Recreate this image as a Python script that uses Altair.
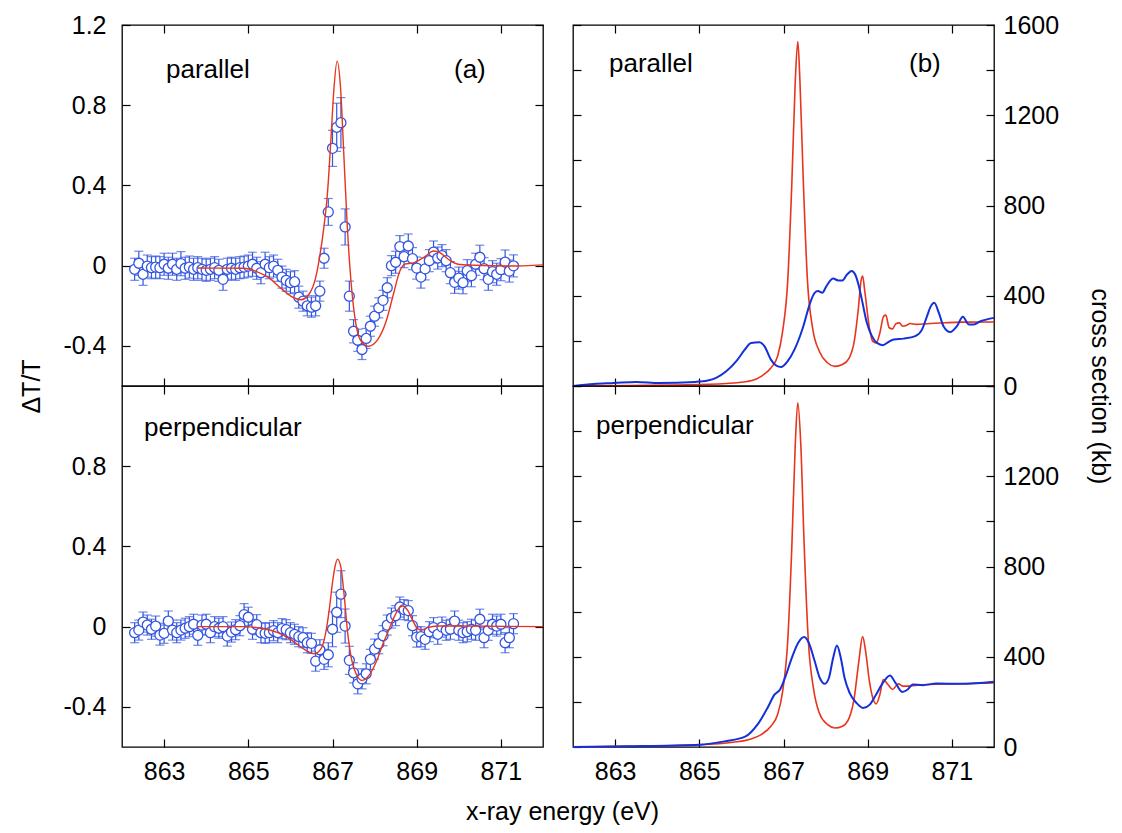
import altair as alt
import pandas as pd

FONT = "Liberation Sans"
W, H = 421, 361
RED = "#e8341c"
BLUE_LINE = "#1431d8"
BLUE_PT = "#3355e0"

# ---------------- (a) measured data ----------------
E_DATA = [862.3, 862.4, 862.5, 862.6, 862.7, 862.8, 862.9, 863.0, 863.1, 863.2,
          863.3, 863.4, 863.5, 863.6, 863.7, 863.8, 863.9, 864.0, 864.1, 864.2,
          864.3, 864.4, 864.5, 864.6, 864.7, 864.8, 864.9, 865.0, 865.1, 865.2,
          865.3, 865.4, 865.5, 865.6, 865.7, 865.8, 865.9, 866.0, 866.1, 866.2,
          866.3, 866.4, 866.5, 866.6, 866.7, 866.8, 866.9, 867.0, 867.1, 867.2,
          867.3, 867.4, 867.5, 867.6, 867.7, 867.8, 867.9, 868.0, 868.1, 868.2,
          868.3, 868.4, 868.5, 868.6, 868.7, 868.8, 868.9, 869.0, 869.1, 869.2,
          869.3, 869.4, 869.5, 869.6, 869.7, 869.8, 869.9, 870.0, 870.1, 870.2,
          870.3, 870.4, 870.5, 870.6, 870.7, 870.8, 870.9, 871.0, 871.1, 871.2, 871.3]

PAR_DT = [-0.018, 0.012, -0.043, -0.002, -0.01, -0.007, -0.01, 0.007, -0.013, 0.007,
          -0.018, 0.01, -0.013, -0.007, -0.018, -0.01, -0.018, -0.023, -0.018, -0.01,
          -0.023, -0.068, -0.018, -0.013, -0.018, -0.01, -0.007, -0.002, 0.007, -0.013,
          -0.035, 0.007, -0.01, -0.002, -0.023, -0.057, -0.073, -0.085, -0.08, -0.157,
          -0.177, -0.2, -0.207, -0.2, -0.127, 0.037, 0.268, 0.585, 0.69, 0.713,
          0.193, -0.152, -0.327, -0.372, -0.418, -0.363, -0.302, -0.252, -0.21, -0.173,
          -0.11, 0.0, 0.017, 0.095, 0.045, 0.098, 0.035, -0.012, -0.057, -0.016,
          0.025, 0.068, 0.038, 0.05, 0.025, -0.035, -0.083, -0.062, -0.085, -0.025,
          -0.05, 0.007, 0.042, -0.015, -0.068, -0.03, -0.043, -0.02, 0.018, -0.027, -0.001]

PAR_ERR = [0.055, 0.06, 0.055, 0.055, 0.055, 0.055, 0.055, 0.055, 0.055, 0.055,
           0.055, 0.06, 0.055, 0.055, 0.055, 0.055, 0.055, 0.055, 0.055, 0.055,
           0.055, 0.055, 0.055, 0.055, 0.055, 0.055, 0.055, 0.055, 0.06, 0.055,
           0.055, 0.06, 0.055, 0.055, 0.055, 0.055, 0.055, 0.055, 0.055, 0.055,
           0.05, 0.05, 0.05, 0.05, 0.05, 0.05, 0.067, 0.09, 0.12, 0.125,
           0.09, 0.075, 0.058, 0.055, 0.05, 0.05, 0.05, 0.05, 0.05, 0.05,
           0.05, 0.05, 0.055, 0.055, 0.055, 0.06, 0.055, 0.055, 0.055, 0.055,
           0.055, 0.055, 0.055, 0.055, 0.055, 0.055, 0.055, 0.055, 0.055, 0.055,
           0.055, 0.055, 0.06, 0.055, 0.055, 0.055, 0.055, 0.055, 0.06, 0.055, 0.055]

PERP_DT = [-0.03, -0.017, 0.023, 0.008, -0.013, 0.003, -0.042, -0.033, 0.028, -0.017,
           -0.03, -0.017, -0.008, 0.0, 0.012, -0.043, 0.008, 0.012, -0.03, 0.0,
           -0.008, 0.0, -0.047, -0.027, -0.015, 0.005, 0.06, 0.047, -0.013, 0.01,
           -0.03, -0.033, -0.03, -0.02, -0.03, -0.01, -0.015, -0.03, -0.038, -0.05,
           -0.055, -0.08, -0.083, -0.172, -0.115, -0.163, -0.14, -0.013, 0.072, 0.162,
           0.003, -0.168, -0.23, -0.285, -0.26, -0.235, -0.163, -0.112, -0.085, -0.045,
           0.008, 0.043, 0.055, 0.098, 0.085, 0.08, 0.005, -0.052, -0.05, -0.063,
           -0.025, -0.005, -0.038, -0.002, -0.018, -0.013, 0.028, -0.018, -0.03, -0.025,
           -0.013, -0.018, 0.037, -0.055, -0.018, 0.012, 0.003, 0.012, -0.08, -0.055, 0.015]

PERP_ERR = [0.05, 0.05, 0.05, 0.05, 0.05, 0.05, 0.05, 0.05, 0.05, 0.05,
            0.05, 0.05, 0.05, 0.05, 0.05, 0.05, 0.05, 0.05, 0.05, 0.05,
            0.05, 0.05, 0.05, 0.05, 0.05, 0.05, 0.055, 0.05, 0.05, 0.05,
            0.05, 0.05, 0.05, 0.05, 0.05, 0.05, 0.05, 0.05, 0.05, 0.05,
            0.05, 0.05, 0.05, 0.05, 0.05, 0.05, 0.06, 0.087, 0.1, 0.117,
            0.085, 0.07, 0.05, 0.05, 0.05, 0.05, 0.05, 0.05, 0.05, 0.05,
            0.05, 0.05, 0.05, 0.05, 0.05, 0.05, 0.05, 0.05, 0.05, 0.05,
            0.05, 0.05, 0.05, 0.05, 0.05, 0.05, 0.05, 0.05, 0.05, 0.05,
            0.05, 0.05, 0.05, 0.05, 0.05, 0.05, 0.05, 0.05, 0.05, 0.05, 0.05]

# ---------------- (a) fit curves ----------------
PAR_FIT_E = [863.8, 864.9, 865.17, 865.48, 865.8, 866.04, 866.25, 866.45, 866.6, 866.7,
             866.8, 866.88, 866.96, 867.03, 867.11, 867.19, 867.27, 867.35, 867.44, 867.54,
             867.66, 867.85, 868.07, 868.27, 868.45, 868.6, 868.72, 868.92, 869.18, 869.4,
             869.55, 869.75, 869.98, 870.37, 871.2, 872.0]
PAR_FIT = [-0.012, -0.013, -0.027, -0.06, -0.117, -0.156, -0.17, -0.14, -0.06, 0.05,
           0.2, 0.36, 0.62, 0.87, 1.02, 0.89, 0.55, 0.2, -0.08, -0.27,
           -0.37, -0.402, -0.37, -0.28, -0.14, -0.027, 0.008, 0.014, 0.043, 0.073,
           0.065, 0.032, 0.007, 0.002, -0.002, 0.004]

PERP_FIT_E = [863.8, 864.9, 865.3, 865.7, 866.0, 866.33, 866.57, 866.73, 866.83, 866.92,
              867.0, 867.06, 867.12, 867.2, 867.28, 867.36, 867.45, 867.57, 867.7, 867.84,
              868.05, 868.2, 868.31, 868.47, 868.6, 868.67, 868.79, 868.92, 869.02, 869.12,
              869.26, 869.5, 870.05, 872.0]
PERP_FIT = [0.0, 0.0, -0.008, -0.03, -0.063, -0.113, -0.135, -0.11, -0.04, 0.08,
            0.22, 0.3, 0.337, 0.295, 0.15, -0.03, -0.16, -0.24, -0.268, -0.25,
            -0.17, -0.085, -0.03, 0.05, 0.097, 0.103, 0.08, 0.025, -0.01, -0.017,
            -0.005, 0.003, 0.003, 0.0]

# ---------------- (b) cross sections ----------------
BPAR_RED_E = [862.0, 865.0, 865.8, 866.25, 866.47, 866.7, 866.86, 866.98, 867.1, 867.2,
              867.28, 867.34, 867.39, 867.47, 867.57, 867.69, 867.85, 868.05, 868.22, 868.4,
              868.56, 868.68, 868.78, 868.84, 868.88, 868.93, 869.04, 869.12, 869.2, 869.28,
              869.38, 869.43, 869.51, 869.59, 869.67, 869.75, 869.83, 869.91, 870.01, 870.15,
              870.42, 870.82, 871.22, 872.0]
BPAR_RED = [0, 6, 13, 24, 43, 80, 132, 243, 465, 910,
            1354, 1527, 1354, 910, 465, 258, 154, 102, 87, 95,
            124, 198, 347, 465, 487, 421, 258, 198, 191, 228,
            310, 314, 258, 253, 276, 280, 265, 268, 277, 273,
            276, 280, 283, 284]

BPAR_BLUE_E = [862.0, 862.5, 862.97, 863.5, 864.05, 864.9, 865.2, 865.4, 865.64, 865.88,
               866.08, 866.23, 866.43, 866.55, 866.7, 866.83, 866.94, 867.1, 867.26, 867.46,
               867.62, 867.74, 867.82, 867.92, 868.02, 868.18, 868.3, 868.4, 868.5, 868.62,
               868.7, 868.78, 868.86, 868.98, 869.1, 869.22, 869.36, 869.5, 869.62, 869.85,
               870.13, 870.29, 870.41, 870.5, 870.58, 870.69, 870.8, 870.96, 871.12, 871.26,
               871.4, 871.52, 871.68, 872.0]
BPAR_BLUE = [0, 9, 13, 18, 13, 18, 24, 36, 65, 110,
             161, 191, 194, 176, 117, 90, 84, 110, 161, 258,
             361, 413, 421, 413, 443, 476, 468, 468, 492, 510,
             495, 450, 384, 280, 221, 191, 181, 196, 206, 210,
             221, 250, 310, 354, 369, 324, 265, 239, 265, 307,
             273, 273, 287, 302]

BPERP_RED_E = [862.0, 865.0, 865.8, 866.25, 866.47, 866.7, 866.86, 866.98, 867.1, 867.2,
               867.28, 867.34, 867.41, 867.49, 867.59, 867.71, 867.85, 868.05, 868.22, 868.4,
               868.56, 868.68, 868.79, 868.88, 868.95, 869.04, 869.12, 869.2, 869.29, 869.37,
               869.48, 869.59, 869.73, 869.83, 869.99, 870.18, 870.42, 871.22, 872.0]
BPERP_RED = [0, 10, 21, 37, 55, 92, 144, 247, 470, 900,
             1344, 1526, 1344, 900, 470, 262, 151, 99, 84, 92,
             129, 218, 381, 489, 425, 292, 218, 191, 233, 299,
             277, 255, 280, 270, 270, 274, 277, 280, 284]

BPERP_BLUE_E = [862.0, 863.3, 865.0, 865.6, 866.1, 866.38, 866.62, 866.79, 866.92, 867.05,
                867.2, 867.35, 867.49, 867.6, 867.74, 867.86, 867.98, 868.08, 868.18, 868.27,
                868.36, 868.45, 868.57, 868.73, 868.89, 869.05, 869.2, 869.36, 869.53, 869.66,
                869.82, 869.95, 870.07, 870.31, 870.63, 871.22, 872.0]
BPERP_BLUE = [0, 3, 10, 25, 47, 99, 173, 233, 255, 314,
              396, 462, 487, 462, 381, 307, 280, 307, 396, 450,
              396, 307, 240, 196, 173, 188, 233, 284, 317, 284,
              244, 255, 277, 274, 281, 280, 289]

X_TICKS = [863, 865, 867, 869, 871]

XS = alt.Scale(domain=[862, 872], nice=False, zero=False)
YL = alt.Scale(domain=[-0.6, 1.2], nice=False, zero=False)
YR = alt.Scale(domain=[0, 1600], nice=False, zero=False)

LEFT_FMT = ("datum.value == 0 ? '0' : (datum.value < 0 ? '-' + format(-datum.value, '.1f') "
            ": format(datum.value, '.1f'))")

LBL = 25
TTL = 25


def ax(orient, values, labels=False, title=None, **kw):
    return alt.Axis(orient=orient, values=values, labels=labels, title=title,
                    tickSize=8, offset=-8, domain=False, grid=False, ticks=True,
                    tickColor="black", tickWidth=1.2,
                    labelFont=FONT, labelFontSize=LBL, labelColor="black",
                    titleFont=FONT, titleFontSize=TTL, titleColor="black",
                    titleFontWeight="normal", **kw)


def label_layer(text, px, py, align="left"):
    return alt.Chart(pd.DataFrame({"t": [text]})).mark_text(
        align=align, baseline="middle", font=FONT, fontSize=26, color="black"
    ).encode(x=alt.value(px), y=alt.value(py), text="t:N")


def left_panel(dt, err, fit_e, fit_v, name, tag, is_top):
    df = pd.DataFrame({"E": E_DATA, "v": dt,
                       "lo": [a - b for a, b in zip(dt, err)],
                       "hi": [a + b for a, b in zip(dt, err)]})
    fit = pd.DataFrame({"E": fit_e, "v": fit_v})
    base = alt.Chart(df)
    if is_top:
        yvals = [-0.4, 0, 0.4, 0.8, 1.2]
        y_left = ax("left", yvals, labels=True, title="\u0394T/T", labelExpr=LEFT_FMT,
                    labelPadding=16, titleX=-99, titleY=H, titleAngle=270,
                    titleAlign="center", titleBaseline="middle")
        x_bot = ax("bottom", X_TICKS)
    else:
        yvals = [-0.4, 0, 0.4, 0.8]
        y_left = ax("left", yvals, labels=True, labelExpr=LEFT_FMT, labelPadding=16)
        x_bot = ax("bottom", X_TICKS, labels=True, labelPadding=12,
                   title="x-ray energy (eV)", titleX=440, titleY=72,
                   titleAlign="center", titleBaseline="middle")
    bars = base.mark_rule(color=BLUE_PT, strokeWidth=1.2).encode(
        x=alt.X("E:Q", scale=XS, axis=x_bot),
        y=alt.Y("lo:Q", scale=YL, axis=y_left),
        y2="hi:Q")
    cap_lo = base.mark_tick(orient="horizontal", size=9, thickness=1.2, color=BLUE_PT).encode(
        x=alt.X("E:Q", scale=XS, axis=None), y=alt.Y("lo:Q", scale=YL, axis=None))
    cap_hi = base.mark_tick(orient="horizontal", size=9, thickness=1.2, color=BLUE_PT).encode(
        x=alt.X("E:Q", scale=XS, axis=None), y=alt.Y("hi:Q", scale=YL, axis=None))
    pts = base.mark_point(shape="circle", filled=True, fill="white", stroke=BLUE_PT,
                          strokeWidth=1.3, size=100, opacity=1, fillOpacity=1).encode(
        x=alt.X("E:Q", scale=XS, axis=ax("top", X_TICKS)),
        y=alt.Y("v:Q", scale=YL, axis=ax("right", yvals)))
    line = alt.Chart(fit).mark_line(color=RED, strokeWidth=1.4, interpolate="monotone").encode(
        x=alt.X("E:Q", scale=XS, axis=None), y=alt.Y("v:Q", scale=YL, axis=None))
    layers = [bars, cap_lo, cap_hi, pts, line]
    if is_top:
        layers += [label_layer(name, 44, 45), label_layer(tag, 332, 45)]
    else:
        layers += [label_layer(name, 22, 42)]
    return alt.layer(*layers).resolve_axis(x="independent", y="independent").properties(
        width=W, height=H)


def right_panel(red_e, red_v, blue_e, blue_v, name, tag, is_top):
    red = pd.DataFrame({"E": red_e, "s": red_v})
    blue = pd.DataFrame({"E": blue_e, "s": blue_v})
    yvals = [0, 200, 400, 600, 800, 1000, 1200, 1400, 1600]
    if is_top:
        rexpr = "datum.value % 400 === 0 ? format(datum.value, 'd') : ''"
        y_right = ax("right", yvals, labels=True, labelExpr=rexpr, labelPadding=9,
                     title="cross section (kb)", titleX=113, titleY=H, titleAngle=90,
                     titleAlign="center", titleBaseline="middle")
        x_bot = ax("bottom", X_TICKS)
    else:
        rexpr = "datum.value % 400 === 0 && datum.value < 1600 ? format(datum.value, 'd') : ''"
        y_right = ax("right", yvals, labels=True, labelExpr=rexpr, labelPadding=9)
        x_bot = ax("bottom", X_TICKS, labels=True, labelPadding=12)
    l_red = alt.Chart(red).mark_line(color=RED, strokeWidth=1.6, interpolate="monotone").encode(
        x=alt.X("E:Q", scale=XS, axis=x_bot),
        y=alt.Y("s:Q", scale=YR, axis=ax("left", yvals)))
    l_blue = alt.Chart(blue).mark_line(color=BLUE_LINE, strokeWidth=2, interpolate="monotone").encode(
        x=alt.X("E:Q", scale=XS, axis=ax("top", X_TICKS)),
        y=alt.Y("s:Q", scale=YR, axis=y_right))
    layers = [l_red, l_blue]
    if is_top:
        layers += [label_layer(name, 36, 39), label_layer(tag, 336, 39)]
    else:
        layers += [label_layer(name, 23, 40)]
    return alt.layer(*layers).resolve_axis(x="independent", y="independent").properties(
        width=W, height=H)


tl = left_panel(PAR_DT, PAR_ERR, PAR_FIT_E, PAR_FIT, "parallel", "(a)", True)
bl = left_panel(PERP_DT, PERP_ERR, PERP_FIT_E, PERP_FIT, "perpendicular", "", False)
tr = right_panel(BPAR_RED_E, BPAR_RED, BPAR_BLUE_E, BPAR_BLUE, "parallel", "(b)", True)
br = right_panel(BPERP_RED_E, BPERP_RED, BPERP_BLUE_E, BPERP_BLUE, "perpendicular", "", False)

chart = alt.ConcatChart(
    concat=[tl, tr, bl, br], columns=2,
    spacing={"row": 0, "column": 30}, bounds="flush"
).properties(
    padding={"left": 10, "top": 4, "right": 2, "bottom": 0},
    background="white"
).configure_view(stroke="black", strokeWidth=1.3)

chart.save("out.html", embed_options={"renderer": "svg", "actions": False})
